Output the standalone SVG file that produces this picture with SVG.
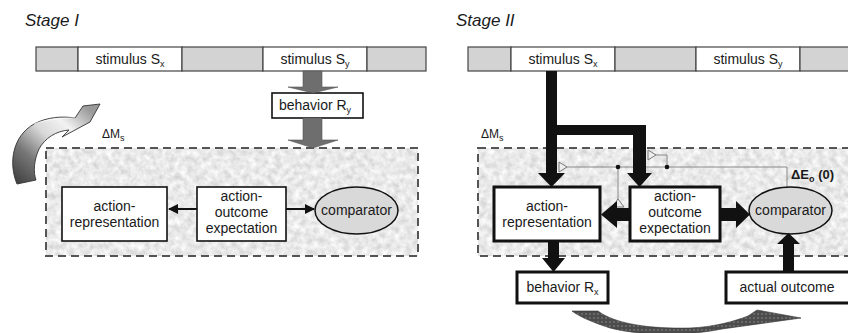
<svg xmlns="http://www.w3.org/2000/svg" width="848" height="333" viewBox="0 0 848 333">
  <style>
    text { font-family: "Liberation Sans", Arial, sans-serif; fill: #1a1a1a; }
    .title { font-size: 17px; font-style: italic; }
    .lbl { font-size: 14px; text-anchor: middle; }
    .sub { font-size: 9px; }
    .strip-gray { fill: #d3d3d3; stroke: #444; stroke-width: 1.2; }
    .strip-white { fill: #fff; stroke: #444; stroke-width: 1.2; }
    .box1 { fill: #fff; stroke: #111; stroke-width: 1.6; }
    .box2 { fill: #fff; stroke: #111; stroke-width: 3; }
    .comp { fill: #d9d9d9; stroke: #111; stroke-width: 1.5; }
    .dash { fill: none; stroke: #555; stroke-width: 2; stroke-dasharray: 8 5; }
    .thin { fill: none; stroke: #111; stroke-width: 2; }
    .fb { fill: none; stroke: #8a8a8a; stroke-width: 1; }
    .fbtri { fill: #eee; stroke: #777; stroke-width: 1; }
    .blk { fill: #111; }
    .gray-arrow { fill: #6e6e6e; stroke: #555; stroke-width: 0.6; }
  </style>
  <defs>
    <filter id="granite" x="0" y="0" width="1" height="1">
      <feTurbulence type="fractalNoise" baseFrequency="0.16" numOctaves="3" seed="7"/>
      <feColorMatrix type="matrix" values="0.5 0 0 0 0.57  0.5 0 0 0 0.57  0.5 0 0 0 0.57  0 0 0 0 1"/>
    </filter>
    <marker id="tip" viewBox="0 0 10 10" refX="9" refY="5" markerWidth="5" markerHeight="5" orient="auto-start-reverse">
      <path d="M0,0 L10,5 L0,10 Z" fill="#111"/>
    </marker>
    <linearGradient id="swirl" x1="0" y1="1" x2="0.9" y2="0.1">
      <stop offset="0" stop-color="#3a3a3a"/>
      <stop offset="0.3" stop-color="#777"/>
      <stop offset="0.55" stop-color="#d8d8d8"/>
      <stop offset="0.75" stop-color="#f2f2f2"/>
      <stop offset="1" stop-color="#9a9a9a"/>
    </linearGradient>
    <pattern id="dots" width="4" height="4" patternUnits="userSpaceOnUse">
      <rect width="4" height="4" fill="#4c4c4c"/>
      <circle cx="2" cy="2" r="0.7" fill="#9c9c9c"/>
    </pattern>
  </defs>

  <!-- ===================== Stage I ===================== -->
  <text class="title" x="25" y="26">Stage I</text>

  <g id="s1-timeline">
    <rect class="strip-gray" x="36" y="47" width="42" height="24"/>
    <rect class="strip-white" x="78" y="47" width="104" height="24"/>
    <rect class="strip-gray" x="182" y="47" width="81" height="24"/>
    <rect class="strip-white" x="263" y="47" width="104" height="24"/>
    <rect class="strip-gray" x="367" y="47" width="59" height="24"/>
  </g>
  <g id="s1-stimulus-sx">
    <text class="lbl" x="130" y="64">stimulus S<tspan class="sub" dy="3">x</tspan></text>
  </g>
  <g id="s1-stimulus-sy">
    <text class="lbl" x="315" y="64">stimulus S<tspan class="sub" dy="3">y</tspan></text>
  </g>

  <g id="s1-memory">
    <rect x="46" y="148" width="372" height="108" fill="#ddd" filter="url(#granite)"/>
    <rect class="dash" x="46" y="148" width="372" height="108"/>
    <text x="102" y="138" font-size="12">ΔM<tspan class="sub" dy="3">s</tspan></text>
  </g>

  <g id="s1-behavior-ry">
    <rect class="box1" x="272" y="93" width="91" height="25" stroke-width="2.6"/>
    <text class="lbl" x="315" y="110">behavior R<tspan class="sub" dy="3">y</tspan></text>
  </g>

  <g id="s1-action-representation">
    <rect class="box1" x="62" y="187" width="105" height="54"/>
    <text class="lbl" x="114.5" y="211">action-</text>
    <text class="lbl" x="114.5" y="227">representation</text>
  </g>

  <g id="s1-action-outcome">
    <rect class="box1" x="197" y="187" width="89" height="54"/>
    <text class="lbl" x="241.5" y="201">action-</text>
    <text class="lbl" x="241.5" y="217">outcome</text>
    <text class="lbl" x="241.5" y="233">expectation</text>
  </g>

  <g id="s1-comparator">
    <ellipse class="comp" cx="356.5" cy="210.5" rx="41.5" ry="23.5"/>
    <text class="lbl" x="356.5" y="215">comparator</text>
  </g>

  <g id="s1-connectors">
    <path class="gray-arrow" d="M303,71 H322 V87 H338 L313,93 L288,87 H303 Z"/>
    <path class="gray-arrow" d="M303,118 H322 V140 H338 L313,148 L288,140 H303 Z"/>
    <line class="thin" x1="197" y1="209" x2="169" y2="209" marker-end="url(#tip)"/>
    <line class="thin" x1="286" y1="209" x2="314" y2="209" marker-end="url(#tip)"/>
    <!-- curved shading arrow: memory update -->
    <path d="M17,184 C8,162 13,136 34,124 C47,117 62,116 75,118 L83,106 L100,104 L90,122 L62,137 L69,130 C56,131 45,138 39,149 C34,160 33,172 36,180 Z"
          fill="url(#swirl)" stroke="#333" stroke-width="0.9" stroke-linejoin="round"/>
    <path d="M34,124 C47,119 62,118 75,118" fill="none" stroke="#fff" stroke-width="1" opacity="0.7"/>
  </g>

  <!-- ===================== Stage II ===================== -->
  <text class="title" x="456" y="26">Stage II</text>

  <g id="s2-timeline">
    <rect class="strip-gray" x="468" y="47" width="43" height="24"/>
    <rect class="strip-white" x="511" y="47" width="104" height="24"/>
    <rect class="strip-gray" x="615" y="47" width="81" height="24"/>
    <rect class="strip-white" x="696" y="47" width="104" height="24"/>
    <rect class="strip-gray" x="800" y="47" width="60" height="24"/>
  </g>
  <g id="s2-stimulus-sx">
    <text class="lbl" x="563" y="64">stimulus S<tspan class="sub" dy="3">x</tspan></text>
  </g>
  <g id="s2-stimulus-sy">
    <text class="lbl" x="748" y="64">stimulus S<tspan class="sub" dy="3">y</tspan></text>
  </g>

  <g id="s2-memory">
    <rect x="478" y="148" width="380" height="108" fill="#ddd" filter="url(#granite)"/>
    <rect class="dash" x="478" y="148" width="380" height="108"/>
    <text x="481" y="138" font-size="12">ΔM<tspan class="sub" dy="3">s</tspan></text>
    <text x="791" y="179" font-size="13" font-weight="bold">ΔE<tspan class="sub" dy="3">o</tspan><tspan dy="-3"> (0)</tspan></text>
  </g>

  <g id="s2-feedback">
    <path class="fb" d="M787,187 V167 H566"/>
    <path class="fb" d="M618,167 V200"/>
    <path class="fb" d="M667,167 V155 H656"/>
    <polygon class="fbtri" points="559,162 559,172 567,167"/>
    <polygon class="fbtri" points="612,207 624,207 618,199"/>
    <polygon class="fbtri" points="648,150 648,160 656,155"/>
    <circle cx="618" cy="167" r="2.3" fill="#111"/>
    <circle cx="667" cy="167" r="2.3" fill="#111"/>
  </g>

  <g id="s2-action-representation">
    <rect class="box2" x="494" y="187" width="106" height="54"/>
    <text class="lbl" x="547" y="211">action-</text>
    <text class="lbl" x="547" y="227">representation</text>
  </g>

  <g id="s2-action-outcome">
    <rect class="box2" x="630" y="187" width="90" height="54"/>
    <text class="lbl" x="675" y="201">action-</text>
    <text class="lbl" x="675" y="217">outcome</text>
    <text class="lbl" x="675" y="233">expectation</text>
  </g>

  <g id="s2-comparator">
    <ellipse class="comp" cx="790.5" cy="210.5" rx="41.5" ry="23.5"/>
    <text class="lbl" x="790.5" y="215">comparator</text>
  </g>

  <g id="s2-behavior-rx">
    <rect class="box2" x="517" y="272" width="91" height="31"/>
    <text class="lbl" x="562.5" y="292">behavior R<tspan class="sub" dy="3">x</tspan></text>
  </g>

  <g id="s2-actual-outcome">
    <rect class="box2" x="726" y="272" width="124" height="31"/>
    <text class="lbl" x="787" y="292">actual outcome</text>
  </g>

  <g id="s2-connectors">
    <path class="blk" d="M546,71 H557 V173 H565 L551.5,187 L538,173 H546 Z"/>
    <path class="blk" d="M557,125 H646 V173 H652 L639.5,187 L627,173 H633 V135 H557 Z"/>
    <path class="blk" d="M630,208 H617 V201 L601,214.5 L617,228 V221 H630 Z"/>
    <path class="blk" d="M720,208 H736 V201 L750,214.5 L736,228 V221 H720 Z"/>
    <path class="blk" d="M548,241 H559 V258 H565 L553.5,272 L542,258 H548 Z"/>
    <path class="blk" d="M783,272 H794 V244 H800 L788.5,233 L777,244 H783 Z"/>
    <path d="M572,311 L598,311 C615,324 650,329 690,328 C715,327 735,321 748,316 L757,310 L801,318 L722,329 C690,336 640,336 610,328 C592,322 580,317 572,311 Z"
          fill="url(#dots)" stroke="#333" stroke-width="0.6"/>
  </g>
</svg>
